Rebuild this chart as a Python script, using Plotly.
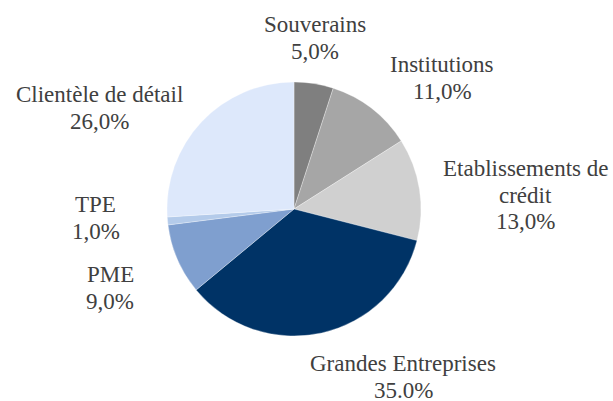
import plotly.graph_objects as go

W, H = 613, 401

categories = ["Souverains", "Institutions", "Etablissements de<br>crédit",
              "Grandes Entreprises", "PME", "TPE", "Clientèle de détail"]
values = [5.0, 11.0, 13.0, 35.0, 9.0, 1.0, 26.0]
pct_labels = ["5,0%", "11,0%", "13,0%", "35.0%", "9,0%", "1,0%", "26,0%"]
colors = ["#7F7F7F", "#A6A6A6", "#D0D0D0", "#003366", "#7F9FCF", "#B4CBEA", "#DDE8FB"]
# label block: centre x and first-line baseline y, in pixels
label_pos = [(315, 33), (442, 73), (525, 177), (403, 372), (110, 283), (96, 213), (99, 103)]

cx, cy, r = 294, 209, 127
FS = 23
LINE = 26.5

fig = go.Figure(go.Pie(
    labels=categories, values=values, sort=False, direction="clockwise",
    rotation=0, marker=dict(colors=colors, line=dict(color="rgba(255,255,255,0.6)", width=0.5)),
    textinfo="none", hoverinfo="label+percent", showlegend=False,
    domain=dict(x=[(cx - r) / W, (cx + r) / W], y=[1 - (cy + r) / H, 1 - (cy - r) / H]),
))

for lab, pct, (px, by) in zip(categories, pct_labels, label_pos):
    lines = lab.split("<br>") + [pct]
    for k, line in enumerate(lines):
        base = by + k * LINE
        mid = base - 0.36 * FS
        fig.add_annotation(
            x=px / W, y=1 - mid / H, xref="paper", yref="paper",
            text=line, showarrow=False, xanchor="center", yanchor="middle",
            align="center",
            font=dict(family="Liberation Serif", size=FS, color="#404040"),
        )

fig.update_layout(
    width=W, height=H, margin=dict(l=0, r=0, t=0, b=0),
    paper_bgcolor="white", plot_bgcolor="white",
)
fig.write_html("out.html", config={"displayModeBar": False},
               post_script="document.body.style.margin='0';document.body.style.padding='0';")
